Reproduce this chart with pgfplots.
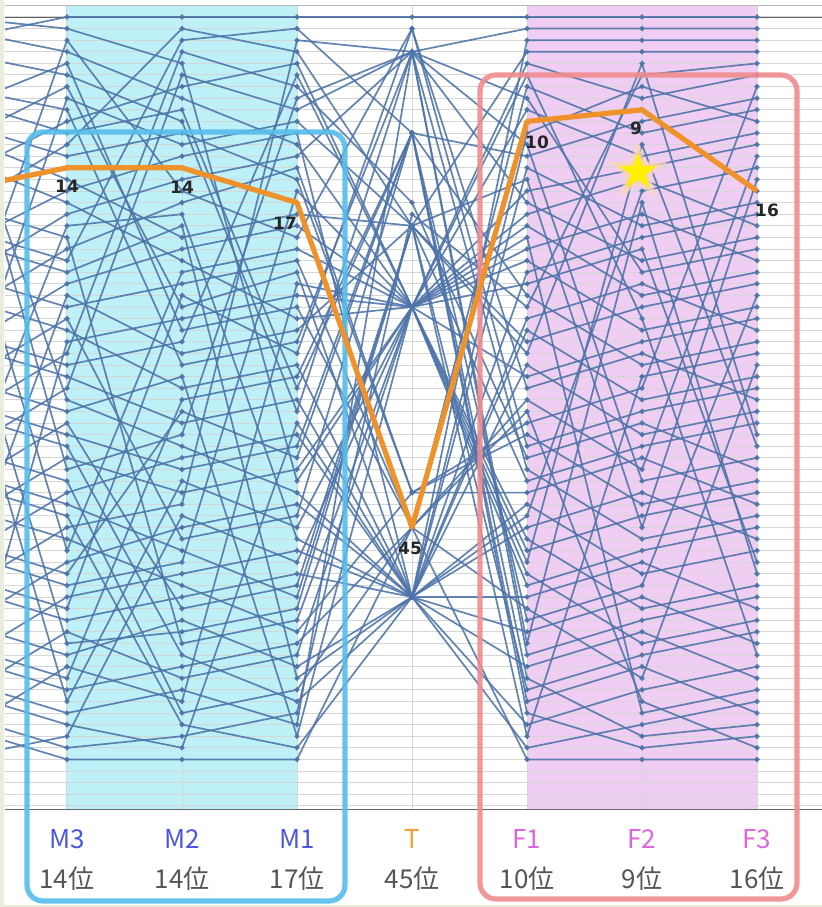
\documentclass[border=0pt]{standalone}
\usepackage{pgfplots}
\pgfplotsset{compat=1.18}
\usepackage{pgfplotstable}
\usepackage{fontspec}
\setmainfont{Noto Sans}
\newfontfamily\cjk{Noto Sans CJK JP}
\newfontfamily\lab{DejaVu Sans}
\usetikzlibrary{shapes.geometric}

\definecolor{lineblue}{HTML}{4D73A8}
\definecolor{bandcyan}{HTML}{BDF1F7}
\definecolor{bandpink}{HTML}{F0CDF2}
\definecolor{oline}{HTML}{F0922B}
\definecolor{boxblue}{HTML}{55BDEB}
\definecolor{boxred}{HTML}{F08C8E}
\definecolor{mlab}{HTML}{4A55E0}
\definecolor{flab}{HTML}{DD66DD}
\definecolor{tlab}{HTML}{F5A038}
\definecolor{rlab}{HTML}{555555}
\definecolor{gridc}{HTML}{D6D6D6}
\definecolor{starY}{HTML}{FFF000}
\definecolor{framec}{HTML}{E9EEDC}

% one row per team: rank in each column (c0 = column left of M3, off the picture)
\pgfplotstableread{
c0 m3 m2 m1 t f1 f2 f3
3 1 1 1 1 1 1 1
1 2 5 41 26 21 18 22
31 3 16 20 2 33 30 34
2 4 8 12 26 16 14 12
9 5 28 26 45 52 58 31
4 6 10 35 4 8 23 21
12 7 26 23 51 28 34 32
37 8 12 10 19 41 38 36
7 9 31 29 4 12 41 39
15 10 7 5 26 49 55 53
8 11 9 33 11 25 31 29
18 12 2 4 19 4 4 4
10 13 11 15 42 37 43 41
16 14 14 17 45 10 9 16
11 15 20 18 19 59 56 54
21 16 13 11 51 45 42 46
13 17 22 27 26 18 15 19
24 18 15 13 4 55 17 49
44 19 18 46 51 31 37 35
17 20 55 53 26 6 27 56
27 21 17 14 42 42 39 43
19 22 3 2 11 61 64 63
20 23 19 58 51 23 20 18
30 24 21 19 26 48 12 38
52 25 30 28 19 15 45 15
23 26 24 22 45 35 60 64
33 27 46 44 11 53 50 25
25 28 33 31 51 27 24 28
64 29 27 25 26 9 13 11
36 30 4 7 17 39 36 40
28 31 29 6 26 20 61 59
29 32 36 34 51 57 54 58
39 33 6 9 4 2 2 2
6 34 38 42 51 44 16 14
32 35 32 63 26 32 29 27
42 36 52 50 19 63 32 30
34 37 40 38 11 13 10 8
35 38 56 60 51 51 48 52
45 39 42 40 26 24 21 48
5 40 37 8 4 40 46 44
38 41 61 59 45 7 11 9
48 42 39 37 51 62 59 57
40 43 47 51 19 30 5 37
41 44 62 64 51 54 51 55
51 45 43 3 4 17 22 20
43 46 50 54 42 36 33 7
14 47 23 21 26 47 44 42
54 48 45 43 51 3 3 3
46 49 35 39 11 58 63 62
47 50 48 16 26 22 28 26
57 51 49 47 51 64 62 60
49 52 25 30 2 38 35 33
50 53 51 49 51 11 7 10
60 54 58 56 26 50 47 45
22 55 54 52 19 29 26 24
53 56 53 57 51 43 49 47
63 57 60 24 26 5 8 6
55 58 34 32 11 60 57 61
56 59 57 55 45 34 40 13
26 60 41 45 26 19 25 23
58 61 59 62 4 56 53 51
59 62 64 36 51 14 19 17
65 63 44 48 26 46 52 50
61 64 63 61 18 26 6 5
62 65 65 65 45 65 65 65
}\ranks
\pgfplotstabletranspose\ranksT\ranks

\pgfdeclareplotmark{bigstar}{%
  \node[star,star points=5,star point ratio=2.4,minimum size=24pt,inner sep=0pt,
        fill=oline!45,draw=oline!35,line width=2.5pt,opacity=0.7] {};
  \node[star,star points=5,star point ratio=2.4,minimum size=19pt,inner sep=0pt,
        fill=starY,draw=none] {};}

\pgfplotsset{
  rankaxis/.style={
    at={(2.5pt,48.5pt)}, anchor=south west,
    scale only axis, width=408.5pt, height=402.5pt,
    xmin=0.4609, xmax=7.565, ymin=-0.034, ymax=69.36, y dir=reverse,
    clip=true,
  }
}

\begin{document}
\begin{tikzpicture}[trim left=0pt, trim right=411pt]
\fill[framec] (0,0) rectangle (2pt,453.5pt);
\fill[framec] (0,0) rectangle (411pt,1.2pt);

\begin{axis}[rankaxis,
  set layers,
  xtick={1,...,7},
  xticklabels={
    {\textcolor{mlab}{M3}\\\textcolor{rlab}{14位}},
    {\textcolor{mlab}{M2}\\\textcolor{rlab}{14位}},
    {\textcolor{mlab}{M1}\\\textcolor{rlab}{17位}},
    {\textcolor{tlab}{T}\\\textcolor{rlab}{45位}},
    {\textcolor{flab}{F1}\\\textcolor{rlab}{10位}},
    {\textcolor{flab}{F2}\\\textcolor{rlab}{9位}},
    {\textcolor{flab}{F3}\\\textcolor{rlab}{16位}}},
  xticklabel style={align=center, font=\cjk\fontsize{13}{20}\selectfont, yshift=-6pt},
  ytick={1,...,69}, yticklabels={},
  yticklabel style={inner sep=0pt, outer sep=0pt},
  major tick length=0pt,
  xmajorgrids, ymajorgrids,
  grid style={gridc, line width=0.5pt},
  axis line style={draw=none},
]
\addplot[fill=bandcyan, draw=none, on layer=axis background]
  coordinates {(1,-0.034) (3,-0.034) (3,69.36) (1,69.36)} -- cycle;
\addplot[fill=bandpink, draw=none, on layer=axis background]
  coordinates {(5,-0.034) (7,-0.034) (7,69.36) (5,69.36)} -- cycle;
\addplot[gray!75!black, line width=0.6pt, on layer=axis background]
  coordinates {(0.4609,1) (7.565,1)};
\addplot[gray!55, line width=0.6pt] coordinates {(0.4609,-0.03) (7.565,-0.03)};
\addplot[gray!80!black, line width=0.7pt] coordinates {(0.4609,69.3) (7.565,69.3)};

\pgfplotsinvokeforeach{1,...,65}{
  \addplot[lineblue, line width=0.85pt, opacity=0.88, mark=*, mark size=0.85pt,
           mark options={fill=lineblue, draw=none}]
    table[x expr=\coordindex, y index=#1] {\ranksT};
}
\end{axis}

\draw[boxblue, line width=2.6pt, rounded corners=8pt, opacity=0.9]
  (13.5pt,3pt) rectangle (172.5pt,387.5pt);
\draw[boxred, line width=2.6pt, rounded corners=8pt, opacity=0.9]
  (240pt,4pt) rectangle (398.5pt,416pt);

\begin{axis}[rankaxis, hide axis]
\addplot[oline, line width=2.6pt, line join=round]
  coordinates {(0,16) (1,14) (2,14) (3,17) (4,45) (5,10) (6,9) (7,16)};
\addplot[only marks, mark=bigstar] coordinates {(5.965,14.36)};
\begin{scope}[every node/.style={font=\lab\bfseries\fontsize{8.5}{10}\selectfont, text=black!85, inner sep=0pt}]
\node at (axis cs:1,15.6) {14};
\node at (axis cs:2,15.7) {14};
\node at (axis cs:2.896,18.76) {17};
\node at (axis cs:3.983,46.8) {45};
\node at (axis cs:5.087,11.8) {10};
\node at (axis cs:5.948,10.6) {9};
\node at (axis cs:7.087,17.7) {16};
\end{scope}
\end{axis}
\end{tikzpicture}
\end{document}
